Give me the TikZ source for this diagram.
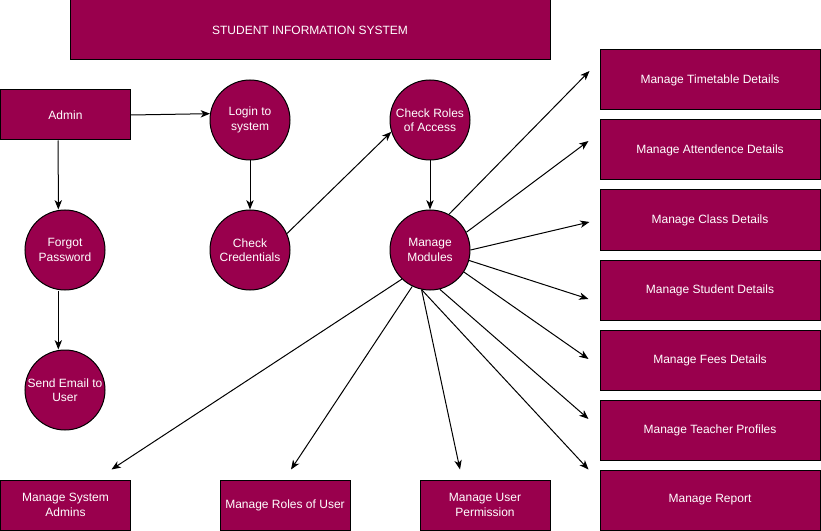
\documentclass[tikz,border=0pt]{standalone}
\usepackage{fontspec}
\setmainfont{Liberation Sans}
\usetikzlibrary{arrows.meta}
\definecolor{maroon}{HTML}{99004D}
\begin{document}
\begin{tikzpicture}[x=0.75pt,y=-0.75pt,
  base/.style={draw=black,line width=0.75pt,fill=maroon,text=white,
    font=\fontsize{9}{10.8}\selectfont,align=center,inner sep=0pt},
  titlebox/.style={base,rectangle,minimum width=360pt,minimum height=45pt},
  widebox/.style={base,rectangle,minimum width=165pt,minimum height=45pt},
  smallbox/.style={base,rectangle,minimum width=97.5pt,minimum height=37.5pt},
  circ/.style={base,circle,minimum size=60pt},
  conn/.style={draw=black,line width=0.75pt,-{Stealth[length=7pt,width=5.5pt,inset=2pt]}}]
\useasboundingbox (0,0) rectangle (821,531);

\node[titlebox] (title) at (310,30) {STUDENT INFORMATION SYSTEM};
\node[smallbox] (admin) at (65.5,115) {Admin};
\node[circ] (login) at (250,120) {Login to\\system};
\node[circ] (cr) at (430,120) {Check Roles\\of Access};
\node[circ] (forgot) at (65,250) {Forgot\\Password};
\node[circ] (cc) at (250,250) {Check\\Credentials};
\node[circ] (mm) at (430,250) {Manage\\Modules};
\node[circ] (send) at (65,390) {Send Email to\\User};

\node[widebox] (tt) at (710,80) {Manage Timetable Details};
\node[widebox] (att) at (710,150) {Manage Attendence Details};
\node[widebox] (cls) at (710,220) {Manage Class Details};
\node[widebox] (stu) at (710,290) {Manage Student Details};
\node[widebox] (fee) at (710,360) {Manage Fees Details};
\node[widebox] (tea) at (710,430) {Manage Teacher Profiles};
\node[widebox] (rep) at (710,500) {Manage Report};

\node[smallbox] (sys) at (65.5,505) {Manage System\\Admins};
\node[smallbox] (rol) at (285,505) {Manage Roles of User};
\node[smallbox] (per) at (485,505) {Manage User\\Permission};

\draw[conn] (admin.east) -- (login.171);
\draw[conn] ([xshift=-5.5]admin.south) -- ([xshift=-5]forgot.north);
\draw[conn] ([xshift=-5]forgot.south) -- ([xshift=-5]send.north);
\draw[conn] (login.south) -- (cc.north);
\draw[conn] (cc.24) -- (cr.197);
\draw[conn] (cr.south) -- (mm.north);

\draw[conn] (mm.62) -- ([shift={(-10,-9)}]tt.west);
\draw[conn] (mm.26) -- ([shift={(-11,-9)}]att.west);
\draw[conn] (mm.0) -- ([shift={(-10,2)}]cls.west);
\draw[conn] (mm.-15) -- ([shift={(-11,9)}]stu.west);
\draw[conn] (mm.-33) -- ([shift={(-11,-1)}]fee.west);
\draw[conn] (mm.-76) -- ([shift={(-11,-11)}]tea.west);
\draw[conn] (mm.-102) -- ([shift={(-11,0)}]rep.north west);
\draw[conn] (mm.-102) -- ([shift={(-25,-10)}]per.north);
\draw[conn] (mm.-116) -- ([shift={(6,-10)}]rol.north);
\draw[conn] (mm.-134) -- ([shift={(46,-10)}]sys.north);
\end{tikzpicture}
\end{document}
